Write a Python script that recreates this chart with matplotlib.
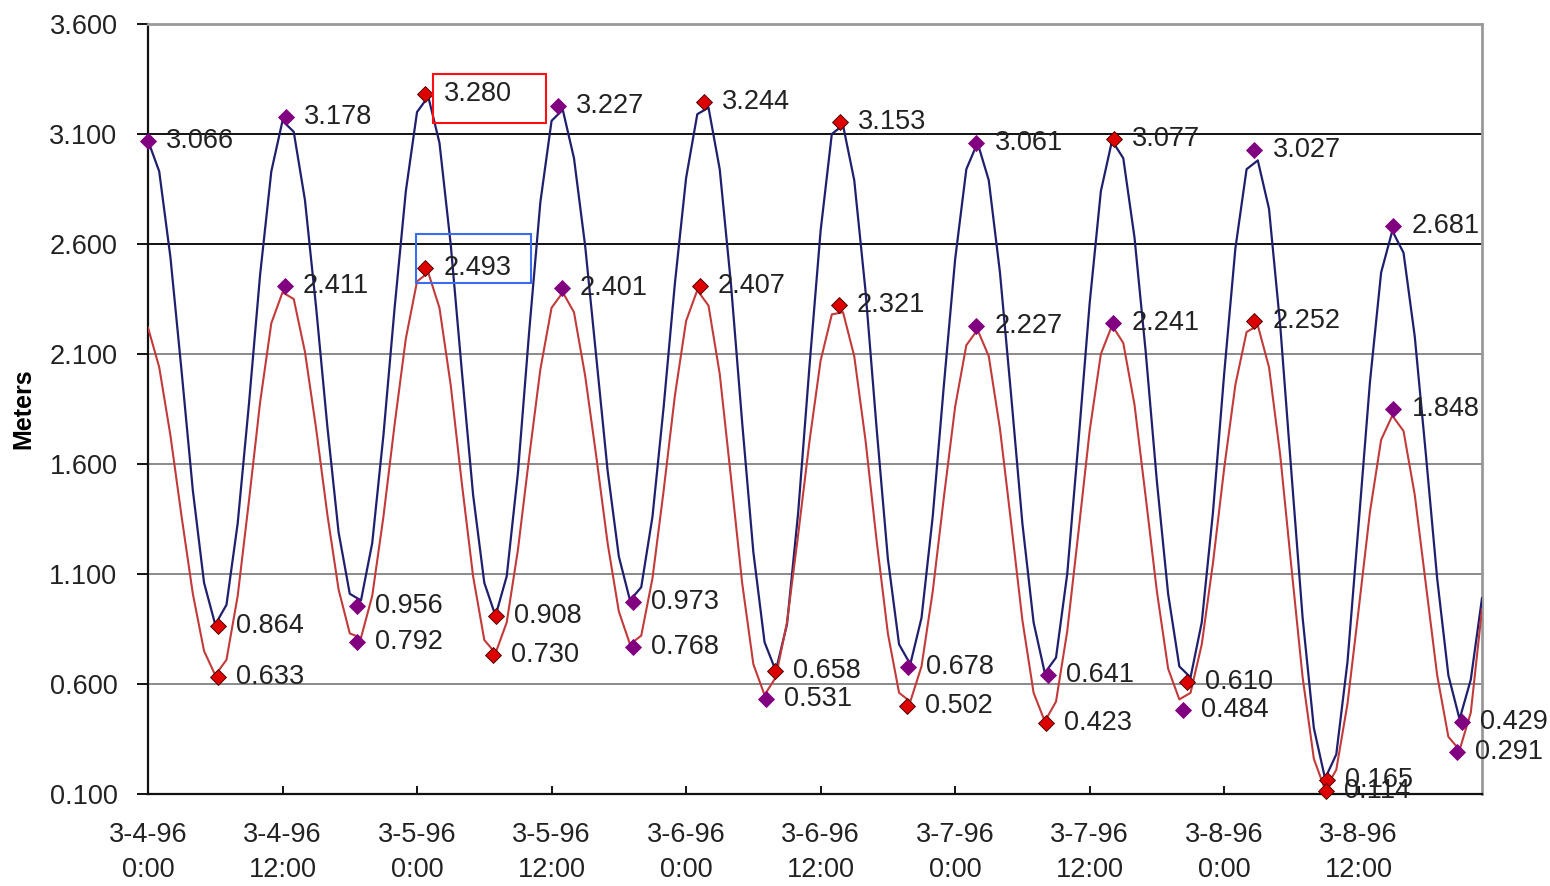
import pandas as pd
import numpy as np
import matplotlib
matplotlib.use("Agg")
import matplotlib.pyplot as plt
import matplotlib.dates as mdates
from matplotlib.patches import Rectangle

plt.rcParams['font.family'] = ['Liberation Sans', 'DejaVu Sans']

# hourly water levels, 3-4-96 0:00 .. 3-8-96 23:00 (meters)
start = pd.Timestamp("1996-03-04 00:00")
upper_level = [
    3.07, 2.93, 2.54, 2.02, 1.48, 1.06, 0.87, 0.96, 1.33, 1.87,
    2.46, 2.93, 3.16, 3.11, 2.80, 2.31, 1.77, 1.29, 1.01, 0.98,
    1.24, 1.73, 2.31, 2.84, 3.20, 3.27, 3.06, 2.60, 2.02, 1.46,
    1.06, 0.91, 1.09, 1.56, 2.20, 2.79, 3.16, 3.21, 2.99, 2.59,
    2.08, 1.57, 1.18, 0.98, 1.04, 1.36, 1.86, 2.42, 2.90, 3.19,
    3.22, 2.94, 2.42, 1.79, 1.20, 0.79, 0.66, 0.87, 1.38, 2.04,
    2.66, 3.10, 3.14, 2.89, 2.39, 1.76, 1.17, 0.78, 0.69, 0.90,
    1.36, 1.96, 2.53, 2.94, 3.06, 2.89, 2.47, 1.91, 1.33, 0.88,
    0.65, 0.72, 1.10, 1.70, 2.33, 2.84, 3.07, 2.99, 2.63, 2.11,
    1.52, 1.01, 0.68, 0.63, 0.88, 1.38, 2.01, 2.58, 2.94, 2.98,
    2.76, 2.23, 1.56, 0.90, 0.40, 0.17, 0.28, 0.70, 1.33, 1.97,
    2.47, 2.66, 2.56, 2.18, 1.64, 1.08, 0.64, 0.44, 0.62, 0.99,
]
lower_level = [
    2.22, 2.04, 1.73, 1.36, 1.01, 0.75, 0.64, 0.71, 1.00, 1.43,
    1.88, 2.24, 2.38, 2.35, 2.11, 1.76, 1.37, 1.03, 0.83, 0.81,
    1.00, 1.36, 1.78, 2.17, 2.43, 2.47, 2.31, 1.96, 1.51, 1.09,
    0.80, 0.74, 0.88, 1.21, 1.63, 2.03, 2.31, 2.38, 2.29, 2.00,
    1.63, 1.24, 0.93, 0.78, 0.82, 1.08, 1.48, 1.91, 2.25, 2.39,
    2.32, 2.01, 1.54, 1.06, 0.69, 0.55, 0.63, 0.88, 1.28, 1.70,
    2.07, 2.28, 2.29, 2.09, 1.71, 1.25, 0.83, 0.56, 0.52, 0.68,
    1.02, 1.45, 1.86, 2.14, 2.21, 2.09, 1.76, 1.33, 0.89, 0.56,
    0.43, 0.52, 0.84, 1.29, 1.75, 2.10, 2.23, 2.15, 1.87, 1.45,
    1.02, 0.67, 0.53, 0.56, 0.78, 1.15, 1.58, 1.96, 2.20, 2.23,
    2.04, 1.64, 1.13, 0.63, 0.26, 0.12, 0.21, 0.51, 0.94, 1.38,
    1.71, 1.82, 1.75, 1.46, 1.05, 0.64, 0.36, 0.30, 0.47, 0.94,
]

# high / low water extremes: hours after start, level, marker colour key
upper_ext_hours = [0.0, 6.2, 12.3, 18.6, 24.75, 31.0, 36.6, 43.3, 49.6, 55.9,
                   61.7, 67.8, 73.9, 80.3, 86.2, 92.7, 98.7, 105.2, 111.1, 117.2]
upper_ext_vals = [3.066, 0.864, 3.178, 0.956, 3.280, 0.908, 3.227, 0.973, 3.244, 0.658,
                  3.153, 0.678, 3.061, 0.641, 3.077, 0.610, 3.027, 0.165, 2.681, 0.429]
upper_ext_kind = ["p", "r", "p", "p", "r", "r", "p", "p", "r", "r",
                  "r", "p", "p", "p", "r", "r", "p", "r", "p", "p"]

lower_ext_hours = [6.2, 12.2, 18.6, 24.75, 30.8, 36.9, 43.3, 49.2, 55.1, 61.6,
                   67.7, 73.9, 80.1, 86.1, 92.3, 98.7, 105.1, 111.1, 116.8]
lower_ext_vals = [0.633, 2.411, 0.792, 2.493, 0.730, 2.401, 0.768, 2.407, 0.531, 2.321,
                  0.502, 2.227, 0.423, 2.241, 0.484, 2.252, 0.114, 1.848, 0.291]
lower_ext_kind = ["r", "p", "p", "r", "r", "p", "p", "r", "p", "r",
                  "r", "p", "r", "p", "p", "r", "r", "p", "p"]

y_ticks = [0.1, 0.6, 1.1, 1.6, 2.1, 2.6, 3.1, 3.6]

times = pd.date_range(start, periods=len(upper_level), freq="h")

fig = plt.figure(figsize=(15.5, 8.86), dpi=100)
ax = fig.add_axes([148 / 1550, 1 - 794 / 886, 1334 / 1550, 770 / 886])

ax.plot(times, upper_level, color="#1f1f6e", lw=1.6, zorder=3)
ax.plot(times, lower_level, color="#c23a3a", lw=1.5, zorder=3)

marker_face = {"p": "#800080", "r": "#dd0000"}
marker_edge = {"p": "#800080", "r": "#3a0000"}

def draw_extremes(hours, vals, kinds):
    for h, v, k in zip(hours, vals, kinds):
        t = start + pd.Timedelta(hours=h)
        ax.plot([t], [v], marker="D", ms=8, mfc=marker_face[k], mec=marker_edge[k],
                mew=0.6, ls="none", zorder=5, clip_on=False)
        ax.annotate(f"{v:.3f}", (mdates.date2num(t), v), xytext=(13, 0),
                    textcoords="offset points", va="center", ha="left",
                    fontsize=19.5, color="#222222", zorder=6)

draw_extremes(upper_ext_hours, upper_ext_vals, upper_ext_kind)
draw_extremes(lower_ext_hours, lower_ext_vals, lower_ext_kind)

# highlight boxes around the largest high-water labels
i_up = upper_ext_vals.index(max(upper_ext_vals))
t_up = mdates.date2num(start + pd.Timedelta(hours=upper_ext_hours[i_up]))
v_up = upper_ext_vals[i_up]
ax.add_patch(Rectangle((t_up + 0.63 / 24, v_up - 0.132), 10.1 / 24, 0.223,
                       fill=False, ec="#ff1010", lw=1.5, zorder=7, clip_on=False))
i_lo = lower_ext_vals.index(max(lower_ext_vals))
t_lo = mdates.date2num(start + pd.Timedelta(hours=lower_ext_hours[i_lo]))
v_lo = lower_ext_vals[i_lo]
ax.add_patch(Rectangle((t_lo - 0.8 / 24, v_lo - 0.070), 10.2 / 24, 0.222,
                       fill=False, ec="#3a6cf0", lw=1.5, zorder=7, clip_on=False))

ax.set_xlim(times[0], times[-1])
ax.set_ylim(0.1, 3.6)
ax.set_yticks(y_ticks)
ax.yaxis.set_major_formatter(plt.FormatStrFormatter("%.3f"))

ax.xaxis.set_major_locator(mdates.HourLocator(byhour=[0, 12]))
ax.xaxis.set_major_formatter(plt.FuncFormatter(
    lambda x, pos: (lambda d: f"{d.month}-{d.day}-{d:%y}\n{d.hour}:{d.minute:02d}")(mdates.num2date(x))))

ax.tick_params(axis="y", direction="out", length=8, width=1.3, pad=14,
               labelsize=19.5, labelcolor="#222222")
ax.tick_params(axis="x", direction="in", length=6, width=1.3, pad=20,
               labelsize=19.5, labelcolor="#222222")
fig.canvas.draw()
for lab in ax.get_xticklabels():
    lab.set_linespacing(1.45)

ax.grid(axis="y", color="#8a8a8a", lw=1.4, zorder=1)
for val, gl in zip(ax.get_yticks(), ax.get_ygridlines()):
    if abs(val - 3.1) < 1e-6 or abs(val - 2.6) < 1e-6:
        gl.set_color("#111111")

for side in ["left", "bottom"]:
    ax.spines[side].set_color("#111111")
    ax.spines[side].set_linewidth(1.6)
for side in ["top", "right"]:
    ax.spines[side].set_color("#999999")
    ax.spines[side].set_linewidth(2)

ax.set_ylabel("Meters", fontsize=18, fontweight="bold", labelpad=10)

fig.savefig("out.png", dpi=100)
